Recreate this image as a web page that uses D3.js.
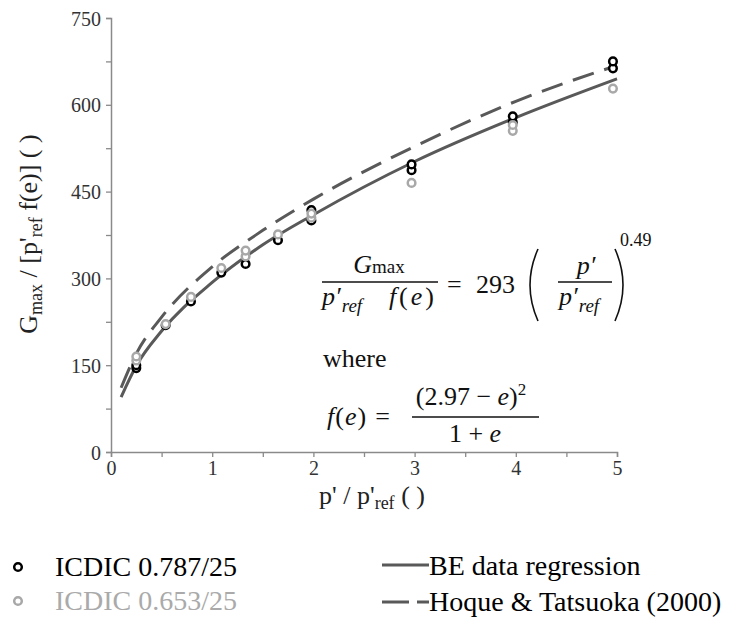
<!DOCTYPE html>
<html>
<head>
<meta charset="utf-8">
<script src="https://cdn.jsdelivr.net/npm/d3@7"></script>
<style>
  body { margin: 0; background: #fff; }
  svg { display: block; }
</style>
</head>
<body>
<div id="chart"></div>
<script>
// measured points, ICDIC 0.787/25 (black) and 0.653/25 (grey)
var icdic787X = [0.25, 0.25, 0.54, 0.79, 1.09, 1.33, 1.65, 1.98, 1.98, 2.97, 2.97, 3.97, 3.97, 4.96, 4.96]
var icdic787Y = [145, 150, 219, 260, 310, 325, 366, 400, 418, 487, 497, 570, 580, 663, 675]
var icdic653X = [0.25, 0.25, 0.54, 0.79, 1.09, 1.33, 1.33, 1.65, 1.98, 1.98, 2.97, 3.97, 3.97, 4.96]
var icdic653Y = [158, 165, 221, 268, 318, 338, 348, 376, 405, 412, 465, 555, 565, 628]

// curves
var curveX = [0.1, 0.25, 0.5, 1, 1.5, 2, 3, 4, 5]
var beY = [95, 149, 209, 293, 358, 410, 502, 578, 645]
var hoqueY = [111, 170, 233, 320, 383, 437, 528, 606, 668]

var xTicks = [0, 0.5, 1, 1.5, 2, 2.5, 3, 3.5, 4, 4.5, 5]
var yTicks = [0, 75, 150, 225, 300, 375, 450, 525, 600, 675, 750]

const width = 736, height = 632
const serif = '"Liberation Serif", "Times New Roman", serif'
var margin = { top: 18, left: 111, right: 119, bottom: 180 }

var svg = d3.select('#chart')
    .append('svg')
    .attr('width', width)
    .attr('height', height)
    .attr('font-family', serif)

var x = d3.scaleLinear().domain([0, 5]).range([margin.left, width - margin.right])
var y = d3.scaleLinear().domain([0, 750]).range([height - margin.bottom, margin.top])

var axisColor = '#8a8a8a'
var lineColor = '#595959'

var xAxis = svg.append('g')
    .attr('transform', `translate(0,${y(0)})`)
    .call(d3.axisBottom(x).tickValues(xTicks).tickSize(5).tickPadding(4)
        .tickFormat(function (d) { return d % 1 == 0 ? d : '' }))
var yAxis = svg.append('g')
    .attr('transform', `translate(${x(0)},0)`)
    .call(d3.axisLeft(y).tickValues(yTicks).tickSize(5).tickPadding(5)
        .tickFormat(function (d) { return d % 150 == 0 ? d : '' }))

xAxis.attr('font-family', serif).attr('font-size', 20)
yAxis.attr('font-family', serif).attr('font-size', 20)
svg.selectAll('.domain').attr('stroke', axisColor).attr('stroke-width', 1.5)
svg.selectAll('.tick line').attr('stroke', axisColor).attr('stroke-width', 1.3)
svg.selectAll('.tick text').attr('fill', '#333')
yAxis.selectAll('.tick text').attr('dy', '0.35em')

// axis titles
svg.append('text')
    .attr('x', 372).attr('y', 504)
    .attr('text-anchor', 'middle')
    .attr('font-size', 26).attr('fill', '#222')
    .html("p' / p'<tspan font-size='18' dy='5'>ref</tspan><tspan dy='-5'> ( )</tspan>")

svg.append('text')
    .attr('transform', 'translate(37,234) rotate(-90)')
    .attr('text-anchor', 'middle')
    .attr('font-size', 26).attr('fill', '#222')
    .html("G<tspan font-size='18' dy='5'>max</tspan><tspan dy='-5'> / [p'</tspan><tspan font-size='18' dy='5'>ref</tspan><tspan dy='-5'>  f(e)] ( )</tspan>")

// curves
var line = d3.line()
    .x(function (d) { return x(d[0]) })
    .y(function (d) { return y(d[1]) })
    .curve(d3.curveMonotoneX)

svg.append('path')
    .datum(d3.zip(curveX, hoqueY))
    .attr('d', line)
    .attr('fill', 'none')
    .attr('stroke', lineColor)
    .attr('stroke-width', 3)
    .attr('stroke-dasharray', '22,11')

svg.append('path')
    .datum(d3.zip(curveX, beY))
    .attr('d', line)
    .attr('fill', 'none')
    .attr('stroke', lineColor)
    .attr('stroke-width', 3)

// markers
function drawPoints(xs, ys, color) {
    svg.append('g')
        .selectAll('circle')
        .data(d3.zip(xs, ys))
        .enter().append('circle')
        .attr('cx', function (d) { return x(d[0]) })
        .attr('cy', function (d) { return y(d[1]) })
        .attr('r', 3.8)
        .attr('fill', '#fff')
        .attr('stroke', color)
        .attr('stroke-width', 2.5)
}
drawPoints(icdic787X, icdic787Y, '#000')
drawPoints(icdic653X, icdic653Y, '#a8a8a8')

// equation
var eq = svg.append('g').attr('fill', '#111').attr('font-size', 26)
eq.append('text').attr('x', 379).attr('y', 273).attr('text-anchor', 'middle')
    .html("<tspan font-style='italic'>G</tspan><tspan font-size='19'>max</tspan>")
eq.append('line').attr('x1', 322).attr('x2', 438).attr('y1', 282).attr('y2', 282)
    .attr('stroke', '#111').attr('stroke-width', 1.3)
eq.append('text').attr('x', 322).attr('y', 305).attr('font-style', 'italic')
    .html("p′<tspan font-size='19' dy='7' dx='1'>ref</tspan>")
eq.append('text').attr('x', 437).attr('y', 305).attr('text-anchor', 'end')
    .attr('letter-spacing', 3)
    .html("<tspan font-style='italic'>f</tspan>(<tspan font-style='italic'>e</tspan>)")
eq.append('text').attr('x', 447).attr('y', 293).text('=')
eq.append('text').attr('x', 476).attr('y', 293).text('293')
eq.append('path').attr('d', 'M538,249 Q522,285 538,321')
    .attr('fill', 'none').attr('stroke', '#111').attr('stroke-width', 1.6)
eq.append('path').attr('d', 'M615,249 Q631,285 615,321')
    .attr('fill', 'none').attr('stroke', '#111').attr('stroke-width', 1.6)
eq.append('text').attr('x', 586).attr('y', 274).attr('text-anchor', 'middle')
    .attr('font-style', 'italic').text('p′')
eq.append('line').attr('x1', 558).attr('x2', 612).attr('y1', 282).attr('y2', 282)
    .attr('stroke', '#111').attr('stroke-width', 1.3)
eq.append('text').attr('x', 559).attr('y', 305).attr('font-style', 'italic')
    .html("p′<tspan font-size='19' dy='7' dx='1'>ref</tspan>")
eq.append('text').attr('x', 620).attr('y', 246).attr('font-size', 18).text('0.49')

eq.append('text').attr('x', 323).attr('y', 367).text('where')

eq.append('text').attr('x', 327).attr('y', 425).attr('letter-spacing', 1)
    .html("<tspan font-style='italic'>f</tspan>(<tspan font-style='italic'>e</tspan>)<tspan dx='8'>=</tspan>")
eq.append('text').attr('x', 471).attr('y', 405).attr('text-anchor', 'middle')
    .html("(2.97 − <tspan font-style='italic'>e</tspan>)<tspan font-size='17' dy='-10'>2</tspan>")
eq.append('line').attr('x1', 412).attr('x2', 539).attr('y1', 417).attr('y2', 417)
    .attr('stroke', '#111').attr('stroke-width', 1.3)
eq.append('text').attr('x', 475).attr('y', 442).attr('text-anchor', 'middle')
    .html("1 + <tspan font-style='italic'>e</tspan>")

// legend
var legend = svg.append('g').attr('font-size', 28)
legend.append('circle').attr('cx', 18).attr('cy', 567).attr('r', 3.8)
    .attr('fill', '#fff').attr('stroke', '#000').attr('stroke-width', 2.5)
legend.append('text').attr('x', 55).attr('y', 576).attr('fill', '#000').text('ICDIC 0.787/25')
legend.append('circle').attr('cx', 18).attr('cy', 601).attr('r', 3.8)
    .attr('fill', '#fff').attr('stroke', '#a8a8a8').attr('stroke-width', 2.5)
legend.append('text').attr('x', 55).attr('y', 610).attr('fill', '#aaa').text('ICDIC 0.653/25')

legend.append('line').attr('x1', 382).attr('x2', 429).attr('y1', 565).attr('y2', 565)
    .attr('stroke', lineColor).attr('stroke-width', 3)
legend.append('text').attr('x', 429).attr('y', 575).attr('fill', '#000').text('BE data regression')
legend.append('line').attr('x1', 382).attr('x2', 429).attr('y1', 602).attr('y2', 602)
    .attr('stroke', lineColor).attr('stroke-width', 3).attr('stroke-dasharray', '27,8')
legend.append('text').attr('x', 429).attr('y', 611).attr('fill', '#000').text('Hoque & Tatsuoka (2000)')
</script>
</body>
</html>
